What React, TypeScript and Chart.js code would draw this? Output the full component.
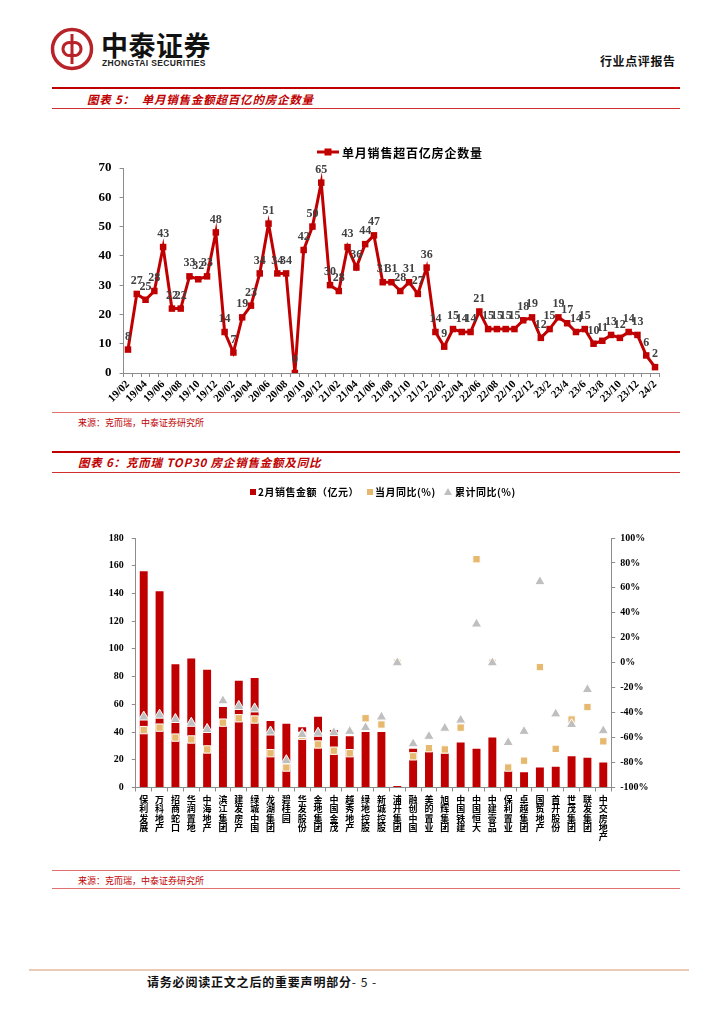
import React, { useEffect, useRef } from 'react';
import { Chart, registerables } from 'chart.js';

Chart.register(...registerables);

// ---------- Chart 1 data ----------
const monthLabels = [
  '19/02', '19/03', '19/04', '19/05', '19/06', '19/07', '19/08', '19/09', '19/10', '19/11', '19/12',
  '20/01', '20/02', '20/03', '20/04', '20/05', '20/06', '20/07', '20/08', '20/09', '20/10', '20/11', '20/12',
  '21/01', '21/02', '21/03', '21/04', '21/05', '21/06', '21/07', '21/08', '21/09', '21/10', '21/11', '21/12',
  '22/01', '22/02', '22/03', '22/04', '22/05', '22/06', '22/07', '22/08', '22/09', '22/10', '22/11', '22/12',
  '23/1', '23/2', '23/3', '23/4', '23/5', '23/6', '23/7', '23/8', '23/9', '23/10', '23/11', '23/12',
  '24/1', '24/2',
];
const bigCompanyCounts = [
  8, 27, 25, 28, 43, 22, 22, 33, 32, 33, 48,
  14, 7, 19, 23, 34, 51, 34, 34, 0, 42, 50, 65,
  30, 28, 43, 36, 44, 47, 31, 31, 28, 31, 27, 36,
  14, 9, 15, 14, 14, 21, 15, 15, 15, 15, 18, 19,
  12, 15, 19, 17, 14, 15, 10, 11, 13, 12, 14, 13,
  6, 2,
];
const countSeriesName = '单月销售超百亿房企数量';

// ---------- Chart 2 data ----------
const companies = [
  '保利发展', '万科地产', '招商蛇口', '华润置地', '中海地产', '滨江集团', '建发房产', '绿城中国', '龙湖集团', '碧桂园',
  '华发股份', '金地集团', '中国金茂', '越秀地产', '绿地控股', '新城控股', '浦开集团', '融创中国', '美的置业', '旭辉集团',
  '中国铁建', '中国恒大', '中建壹品', '保利置业', '卓越集团', '国贸地产', '首开股份', '世茂集团', '联发集团', '中交房地产',
];
const febSales = [
  156, 141.5, 89, 93, 85, 58, 77, 79, 48, 46,
  43.5, 51, 41.5, 37, 40, 40, 1, 28, 27, 24.5,
  32.5, 28, 36, 12.5, 11, 14.5, 15, 22.5, 21.5, 18,
];
const monthYoY = [
  -54, -52, -60, -61.5, -69.5, -48, -44.5, -45.5, -72.5, -84,
  -58.5, -65.5, -70.5, -72.5, -44.5, -49.5, 0, -75, -68.5, -69.5,
  -52, 83, 0, -84, -78.5, -3.5, -69, -45.5, -35.5, -63,
];
const cumYoY = [
  -43.5, -42, -45.5, -48.5, -53.5, -30.5, -35, -37, -55.5, -78.5,
  -57.5, -56.5, -56, -55, -52, -43.5, 0, -65, -59, -52.5,
  -46, 31, 0, -64, -55, 65, -41, -49.5, -21.5, -54.5,
];
const salesName = '2月销售金额（亿元）';
const monthYoYName = '当月同比(%)';
const cumYoYName = '累计同比(%)';
const leftTicks = { min: 0, max: 180, step: 20 };
const rightTicks = { min: -100, max: 100, step: 20 };

const RED = '#C00000';
const TAN = '#E6B96F';
const GREY = '#BFBFBF';
const AXIS = '#8C8C8C';
const SERIF = '"Liberation Serif", "DejaVu Serif", serif';
const CJK = '"Noto Sans CJK SC", "Noto Sans", sans-serif';

const valueLabelsPlugin = {
  id: 'valueLabels',
  afterDatasetsDraw(chart: any) {
    const { ctx } = chart;
    const meta = chart.getDatasetMeta(0);
    const data = chart.data.datasets[0].data;
    ctx.save();
    ctx.font = `bold 12px ${SERIF}`;
    ctx.fillStyle = '#404040';
    ctx.textAlign = 'center';
    ctx.textBaseline = 'middle';
    meta.data.forEach((pt: any, i: number) => {
      ctx.fillText(String(data[i]), pt.x, pt.y - 13);
    });
    ctx.restore();
  },
};

const legend1Plugin = {
  id: 'legend1',
  afterDraw(chart: any) {
    const { ctx } = chart;
    const y = 22;
    ctx.save();
    ctx.strokeStyle = RED;
    ctx.lineWidth = 3;
    ctx.beginPath();
    ctx.moveTo(257, y);
    ctx.lineTo(279, y);
    ctx.stroke();
    ctx.fillStyle = RED;
    ctx.fillRect(264.5, y - 3.5, 7, 7);
    ctx.fillStyle = '#000';
    ctx.font = `bold 12px ${CJK}`;
    (ctx as any).letterSpacing = '0.8px';
    ctx.textAlign = 'left';
    ctx.textBaseline = 'middle';
    ctx.fillText(chart.data.datasets[0].label, 282, y + 1);
    ctx.restore();
  },
};

const legend2Plugin = {
  id: 'legend2',
  afterDraw(chart: any) {
    const { ctx } = chart;
    const y = 14;
    ctx.save();
    ctx.font = `bold 10px ${CJK}`;
    (ctx as any).letterSpacing = '0.5px';
    ctx.textAlign = 'left';
    ctx.textBaseline = 'middle';
    ctx.fillStyle = RED;
    ctx.fillRect(190, y - 3, 6, 6);
    ctx.fillStyle = '#000';
    ctx.fillText(salesName, 198, y + 0.5);
    ctx.fillStyle = TAN;
    ctx.fillRect(307, y - 3, 6, 6);
    ctx.fillStyle = '#000';
    ctx.fillText(monthYoYName, 315, y + 0.5);
    ctx.fillStyle = GREY;
    ctx.beginPath();
    ctx.moveTo(388, y - 4);
    ctx.lineTo(392, y + 3);
    ctx.lineTo(384, y + 3);
    ctx.closePath();
    ctx.fill();
    ctx.fillStyle = '#000';
    ctx.fillText(cumYoYName, 395, y + 0.5);
    ctx.restore();
  },
};

function Text(props: { x: number; y: number; size: number; children: React.ReactNode; style?: React.CSSProperties }) {
  return (
    <div
      style={{
        position: 'absolute',
        left: props.x,
        top: props.y - props.size / 2,
        fontSize: props.size,
        lineHeight: `${props.size}px`,
        whiteSpace: 'nowrap',
        fontFamily: CJK,
        ...props.style,
      }}
    >
      {props.children}
    </div>
  );
}

function HLine(props: { x1: number; x2: number; y: number; h: number; color: string }) {
  return (
    <div
      style={{
        position: 'absolute',
        left: props.x1,
        top: props.y - props.h / 2,
        width: props.x2 - props.x1,
        height: props.h,
        background: props.color,
      }}
    />
  );
}

export default function App() {
  const ref1 = useRef<HTMLCanvasElement>(null);
  const ref2 = useRef<HTMLCanvasElement>(null);

  useEffect(() => {
    const c1 = new Chart(ref1.current as HTMLCanvasElement, {
      type: 'line',
      data: {
        labels: monthLabels,
        datasets: [
          {
            label: countSeriesName,
            data: bigCompanyCounts,
            borderColor: RED,
            backgroundColor: RED,
            borderWidth: 3,
            pointStyle: 'rect',
            pointRadius: 4.6,
            pointBorderWidth: 0,
            tension: 0,
          },
        ],
      },
      options: {
        responsive: false,
        animation: false,
        layout: { padding: { top: 38, right: 20.6, left: 0, bottom: 0 } },
        plugins: { legend: { display: false }, tooltip: { enabled: false } },
        scales: {
          x: {
            type: 'category',
            offset: true,
            grid: { display: true, drawOnChartArea: false, offset: true, tickLength: 4, color: AXIS },
            border: { color: AXIS, width: 1 },
            ticks: {
              autoSkip: false,
              minRotation: 45,
              maxRotation: 45,
              padding: 1,
              color: '#000',
              font: { family: SERIF, size: 11, weight: 'bold' },
              callback: (_v: any, i: number) => (i % 2 === 0 ? monthLabels[i] : ''),
            },
            afterFit: (s: any) => {
              s.height = 37;
            },
          },
          y: {
            min: 0,
            max: 70,
            grid: { display: true, drawOnChartArea: false, tickLength: 4, color: AXIS },
            border: { color: AXIS, width: 1 },
            ticks: {
              stepSize: 10,
              padding: 8,
              color: '#000',
              font: { family: SERIF, size: 13, weight: 'bold' },
            },
            afterFit: (s: any) => {
              s.width = 63.6;
            },
          },
        },
      } as any,
      plugins: [valueLabelsPlugin, legend1Plugin],
    });

    const c2 = new Chart(ref2.current as HTMLCanvasElement, {
      type: 'bar',
      data: {
        labels: companies.map((n) => n.split('')),
        datasets: [
          {
            type: 'line',
            label: cumYoYName,
            data: cumYoY,
            yAxisID: 'y1',
            showLine: false,
            pointStyle: 'triangle',
            pointRadius: 6,
            pointBackgroundColor: GREY,
            pointBorderColor: '#ffffff',
            pointBorderWidth: 1,
            backgroundColor: GREY,
            borderColor: GREY,
            order: 1,
          },
          {
            type: 'line',
            label: monthYoYName,
            data: monthYoY,
            yAxisID: 'y1',
            showLine: false,
            pointStyle: 'rect',
            pointRadius: 5.2,
            pointBackgroundColor: TAN,
            pointBorderColor: '#ffffff',
            pointBorderWidth: 1,
            backgroundColor: TAN,
            borderColor: TAN,
            order: 2,
          },
          {
            type: 'bar',
            label: salesName,
            data: febSales,
            yAxisID: 'y',
            backgroundColor: RED,
            borderWidth: 0,
            barPercentage: 0.5,
            categoryPercentage: 1,
            order: 3,
          },
        ] as any,
      },
      options: {
        responsive: false,
        animation: false,
        layout: { padding: { top: 60, right: 0, left: 0, bottom: 0 } },
        plugins: { legend: { display: false }, tooltip: { enabled: false } },
        scales: {
          x: {
            offset: true,
            grid: { display: true, drawOnChartArea: false, offset: true, tickLength: 4, color: AXIS },
            border: { color: AXIS, width: 1 },
            ticks: {
              autoSkip: false,
              maxRotation: 0,
              minRotation: 0,
              padding: 3,
              color: '#000',
              font: { family: CJK, size: 9, weight: 'bold', lineHeight: 1.05 },
            },
            afterFit: (s: any) => {
              s.height = 82.5;
            },
          },
          y: {
            position: 'left',
            min: leftTicks.min,
            max: leftTicks.max,
            grid: { display: true, drawOnChartArea: false, tickLength: 4, color: AXIS },
            border: { color: AXIS, width: 1 },
            ticks: {
              stepSize: leftTicks.step,
              padding: 8,
              color: '#000',
              font: { family: SERIF, size: 10, weight: 'bold' },
            },
            afterFit: (s: any) => {
              s.width = 75.8;
            },
          },
          y1: {
            position: 'right',
            min: rightTicks.min,
            max: rightTicks.max,
            grid: { display: true, drawOnChartArea: false, tickLength: 4, color: AXIS },
            border: { color: AXIS, width: 1 },
            ticks: {
              stepSize: rightTicks.step,
              padding: 5,
              color: '#000',
              font: { family: SERIF, size: 10, weight: 'bold' },
              callback: (v: any) => `${v}%`,
            },
            afterFit: (s: any) => {
              s.width = 68.8;
            },
          },
        },
      } as any,
      plugins: [legend2Plugin],
    });

    return () => {
      c1.destroy();
      c2.destroy();
    };
  }, []);

  const titleStyle: React.CSSProperties = {
    color: RED,
    fontWeight: 'bold',
    fontStyle: 'italic',
    letterSpacing: '0.8px',
  };
  const sourceStyle: React.CSSProperties = { color: RED };

  return (
    <div
      style={{
        position: 'absolute',
        left: 0,
        top: 0,
        width: 724,
        height: 1024,
        background: '#ffffff',
        overflow: 'hidden',
      }}
    >
      {/* Logo */}
      <svg style={{ position: 'absolute', left: 48, top: 25 }} width={50} height={50} viewBox="0 0 50 50">
        <circle cx={24} cy={24} r={19.5} fill="none" stroke="#B8232A" strokeWidth={3.5} />
        <line x1={24} y1={9} x2={24} y2={39} stroke="#B8232A" strokeWidth={3} />
        <path d="M24 18 A6.5 6.5 0 1 0 24 30" fill="none" stroke="#B8232A" strokeWidth={3} />
        <path d="M24 18 A6.5 6.5 0 1 1 24 30" fill="none" stroke="#B8232A" strokeWidth={3} />
      </svg>
      <Text x={101} y={44} size={27} style={{ fontWeight: 'bold', color: '#111', letterSpacing: '0.5px' }}>
        中泰证券
      </Text>
      <Text
        x={102}
        y={63.5}
        size={8.5}
        style={{ fontWeight: 'bold', color: '#222', fontFamily: '"Liberation Sans", Arial, sans-serif', letterSpacing: '0.35px' }}
      >
        ZHONGTAI SECURITIES
      </Text>
      <Text x={600} y={61} size={12} style={{ fontWeight: 'bold', color: '#111', letterSpacing: '0.6px' }}>
        行业点评报告
      </Text>

      {/* Chart 1 title */}
      <HLine x1={52} x2={680} y={88.3} h={2} color={RED} />
      <Text x={87} y={100} size={11.5} style={titleStyle}>
        图表 5：&nbsp;&nbsp;单月销售金额超百亿的房企数量
      </Text>
      <HLine x1={52} x2={680} y={108.5} h={1} color="#D03030" />

      <canvas
        ref={ref1}
        width={620}
        height={280}
        style={{ position: 'absolute', left: 60, top: 130, width: 620, height: 280 }}
      />

      <HLine x1={52} x2={680} y={412} h={1} color="#E07070" />
      <Text x={78} y={422.5} size={9} style={sourceStyle}>
        来源：克而瑞，中泰证券研究所
      </Text>

      {/* Chart 2 title */}
      <HLine x1={52} x2={680} y={451.7} h={2} color={RED} />
      <Text x={78} y={462.5} size={11.5} style={titleStyle}>
        图表 6：克而瑞 TOP30 房企销售金额及同比
      </Text>
      <HLine x1={52} x2={680} y={472} h={1} color="#D03030" />

      <canvas
        ref={ref2}
        width={620}
        height={392}
        style={{ position: 'absolute', left: 60, top: 478, width: 620, height: 392 }}
      />

      <HLine x1={52} x2={680} y={870} h={1} color="#E07070" />
      <Text x={78} y={880.5} size={9} style={sourceStyle}>
        来源：克而瑞，中泰证券研究所
      </Text>
      <HLine x1={52} x2={680} y={888.5} h={1} color="#E07070" />

      {/* Footer */}
      <HLine x1={29} x2={689} y={969.5} h={2} color="#EBCBB5" />
      <Text x={147} y={982} size={12} style={{ fontWeight: 'bold', color: '#111', letterSpacing: '0.8px' }}>
        请务必阅读正文之后的重要声明部分
        <span style={{ fontWeight: 'normal', letterSpacing: '1px' }}>- 5 -</span>
      </Text>
    </div>
  );
}
